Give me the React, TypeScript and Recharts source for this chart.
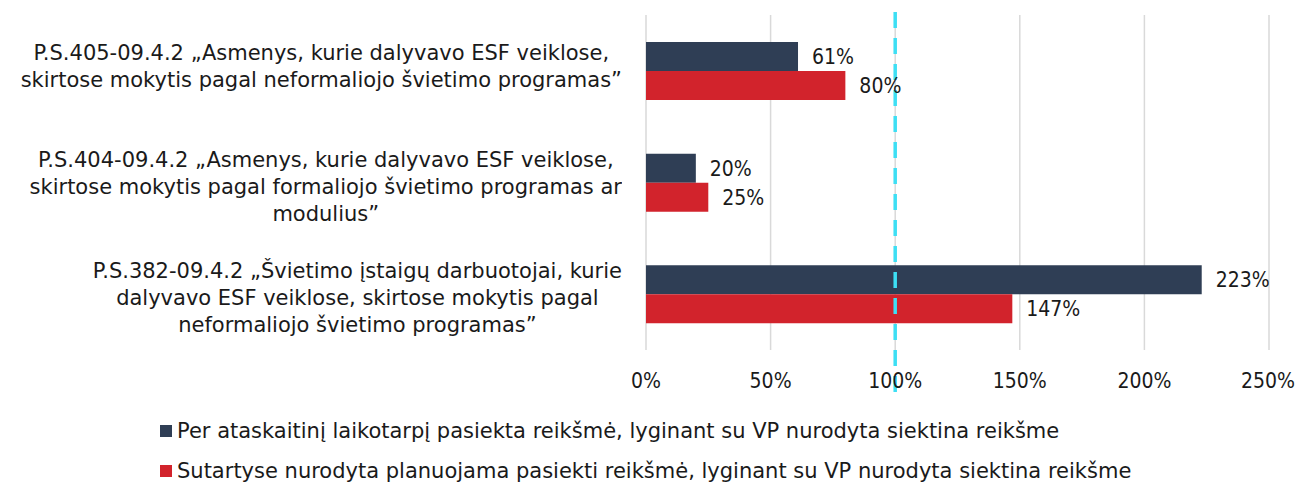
import { BarChart, Bar, XAxis, YAxis, CartesianGrid, Legend, ReferenceLine, LabelList } from "recharts";

const categories = [
  "P.S.405-09.4.2 „Asmenys, kurie dalyvavo ESF veiklose,|skirtose mokytis pagal neformaliojo švietimo programas”",
  "P.S.404-09.4.2 „Asmenys, kurie dalyvavo ESF veiklose,|skirtose mokytis pagal formaliojo švietimo programas ar|modulius”",
  "P.S.382-09.4.2 „Švietimo įstaigų darbuotojai, kurie|dalyvavo ESF veiklose, skirtose mokytis pagal|neformaliojo švietimo programas”",
];
const achieved = [61, 20, 223];
const planned = [80, 25, 147];
const xTicks = [0, 50, 100, 150, 200, 250];

const seriesNames = [
  "Per ataskaitinį laikotarpį pasiekta reikšmė, lyginant su VP nurodyta siektina reikšme",
  "Sutartyse nurodyta planuojama pasiekti reikšmė, lyginant su VP nurodyta siektina reikšme",
];

const NAVY = "#2f3e55";
const RED = "#d2232c";
const FONT = "'DejaVu Sans', sans-serif";
const NUM_FONT = "'DejaVu Sans Condensed', 'DejaVu Sans', sans-serif";

const data = categories.map((c, i) => ({ name: c, achieved: achieved[i], planned: planned[i] }));

function CategoryTick(props: any) {
  const { x, y, payload } = props;
  const lines: string[] = String(payload.value).split("|");
  const lh = 27;
  const h = lines.length * lh;
  const top = y - lh - 4 - (lines.length - 2) * 5;
  return (
    <foreignObject x={x - 646} y={top} width={630} height={h + 6}>
      <div style={{ display: "flex", justifyContent: "flex-end", width: "100%" }}>
        <div
          style={{
            textAlign: "center",
            fontFamily: FONT,
            fontSize: 21,
            lineHeight: `${lh}px`,
            color: "#1a1a1a",
            whiteSpace: "nowrap",
          }}
        >
          {lines.map((l, i) => (
            <div key={i}>{l}</div>
          ))}
        </div>
      </div>
    </foreignObject>
  );
}

// dashed target line, drawn a bit past the plot area like the original
function DashedRef(props: any) {
  const { x1 } = props;
  return (
    <line x1={x1} x2={x1} y1={12} y2={400} stroke="#3ddff4" strokeWidth={3.5} strokeDasharray="16 10" />
  );
}

function LegendBox() {
  const colors = [NAVY, RED];
  return (
    <div style={{ paddingLeft: 160, paddingTop: 15, fontFamily: FONT, fontSize: 21, color: "#1a1a1a" }}>
      {seriesNames.map((n, i) => (
        <div key={i} style={{ display: "flex", alignItems: "center", height: 40, whiteSpace: "nowrap" }}>
          <span style={{ width: 12, height: 12, background: colors[i], marginRight: 5, display: "inline-block" }} />
          <span>{n}</span>
        </div>
      ))}
    </div>
  );
}

const labelStyle = { fontSize: 21, fill: "#1a1a1a", fontFamily: NUM_FONT };

export default function App() {
  return (
    <div style={{ position: "absolute", left: 0, top: 0, background: "#fff" }}>
      <BarChart
        width={1295}
        height={486}
        data={data}
        layout="vertical"
        margin={{ top: 15, right: 26, left: 0, bottom: 0 }}
        barGap={0}
        barCategoryGap="24%"
      >
        <CartesianGrid horizontal={false} stroke="#d9d9d9" strokeWidth={1.5} />
        <XAxis
          type="number"
          domain={[0, 250]}
          ticks={xTicks}
          tickFormatter={(v) => `${v}%`}
          axisLine={false}
          tickLine={false}
          height={46}
          tick={{ fontSize: 21, fill: "#1a1a1a", fontFamily: NUM_FONT, dy: 15 }}
        />
        <YAxis
          type="category"
          dataKey="name"
          width={646}
          axisLine={false}
          tickLine={false}
          tick={<CategoryTick />}
        />
        <Legend verticalAlign="bottom" align="left" height={90} content={<LegendBox />} />
        <Bar dataKey="achieved" name={seriesNames[0]} fill={NAVY} isAnimationActive={false} barSize={29}>
          <LabelList dataKey="achieved" position="right" offset={14} formatter={(v: any) => `${v}%`} style={labelStyle} />
        </Bar>
        <Bar dataKey="planned" name={seriesNames[1]} fill={RED} isAnimationActive={false} barSize={29}>
          <LabelList dataKey="planned" position="right" offset={14} formatter={(v: any) => `${v}%`} style={labelStyle} />
        </Bar>
        <ReferenceLine x={100} ifOverflow="visible" shape={<DashedRef />} />
      </BarChart>
    </div>
  );
}
